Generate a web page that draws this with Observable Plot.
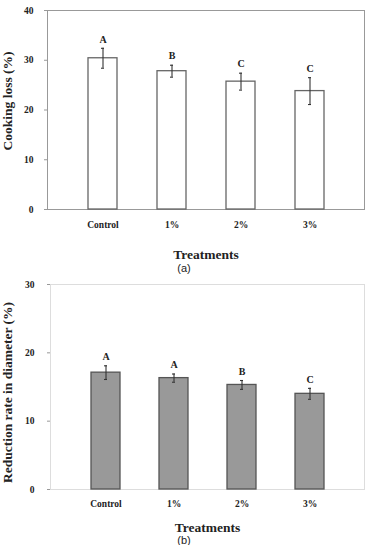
<!DOCTYPE html>
<html>
<head>
<meta charset="utf-8">
<script src="https://cdn.jsdelivr.net/npm/d3@7"></script>
<script src="https://cdn.jsdelivr.net/npm/@observablehq/plot@0.6"></script>
<style>
  html, body { margin: 0; padding: 0; background: #fff; }
  #wrap { position: relative; width: 368px; height: 545px; overflow: hidden; background: #fff; }
  #wrap > div.chart { position: absolute; left: 0; }
  .cap { position: absolute; width: 368px; text-align: center; font-family: "Liberation Sans", Arial, sans-serif; font-size: 11px; color: #222; }
</style>
</head>
<body>
<div id="wrap">
  <div class="chart" id="ca" style="top:0px"></div>
  <div class="chart" id="cb" style="top:275px"></div>
  <div class="cap" style="top:262px">(a)</div>
  <div class="cap" style="top:534px">(b)</div>
</div>
<script>
const treatments = ["Control", "1%", "2%", "3%"];
const cookingLoss = [30.4, 27.8, 25.7, 23.8];
const cookingLossErr = [2.0, 1.2, 1.7, 2.7];
const cookingLossLetters = ["A", "B", "C", "C"];
const reductionRate = [17.1, 16.3, 15.3, 14.0];
const reductionRateErr = [1.0, 0.6, 0.65, 0.8];
const reductionRateLetters = ["A", "A", "B", "C"];
const yTicksA = [0, 10, 20, 30, 40];
const yTicksB = [0, 10, 20, 30];

const serif = "'Liberation Serif', 'Times New Roman', serif";

function makeChart({values, errs, letters, yMax, yTicks, yLabel, height, marginTop, marginBottom, marginLeft,
                    frameStroke, barFill, barStroke, tickPad, yTickPad, yLabelDx, yLabelDy, xLabelDy}) {
  const data = treatments.map((t, i) => ({t, v: values[i], e: errs[i], l: letters[i]}));
  return Plot.plot({
    width: 368,
    height,
    marginTop,
    marginBottom,
    marginLeft,
    marginRight: 4,
    style: {background: "transparent", fontFamily: serif, color: "#222"},
    x: {domain: treatments, padding: 0.58, label: null},
    y: {domain: [0, yMax], label: null},
    marks: [
      Plot.frame({stroke: frameStroke}),
      Plot.barY(data, {x: "t", y: "v", fill: barFill, stroke: barStroke, strokeWidth: 1.3}),
      Plot.ruleX(data, {x: "t", y1: d => d.v - d.e, y2: d => d.v + d.e, stroke: "#333", strokeWidth: 1.1}),
      Plot.tickY(data, {x: "t", y: d => d.v + d.e, stroke: "#333", strokeWidth: 1.1, insetLeft: 13, insetRight: 13}),
      Plot.tickY(data, {x: "t", y: d => d.v - d.e, stroke: "#333", strokeWidth: 1.1, insetLeft: 13, insetRight: 13}),
      Plot.text(data, {x: "t", y: d => d.v + d.e, text: "l", dy: -9, fontSize: 10, fontWeight: "bold", fontFamily: serif, fill: "#222"}),
      Plot.axisY({ticks: yTicks, tickFormat: d => d, tickSize: 3, tickPadding: yTickPad, stroke: "#999",
                  fontSize: 9.5, fontWeight: "bold", fontFamily: serif, label: null}),
      Plot.axisX({tickSize: 0, tickPadding: tickPad, fontSize: 9.5, fontWeight: "bold", fontFamily: serif, label: null}),
      Plot.text([yLabel], {frameAnchor: "left", rotate: -90, dx: yLabelDx, dy: yLabelDy, text: d => d,
                  textAnchor: "middle", lineAnchor: "middle",
                  fontSize: 13.5, fontWeight: "bold", fontFamily: serif, fill: "#222"}),
      Plot.text(["Treatments"], {frameAnchor: "bottom", dy: xLabelDy, text: d => d,
                  textAnchor: "middle", lineAnchor: "middle",
                  fontSize: 13.5, fontWeight: "bold", fontFamily: serif, fill: "#222"})
    ]
  });
}

document.getElementById("ca").append(makeChart({
  values: cookingLoss, errs: cookingLossErr, letters: cookingLossLetters,
  yMax: 40, yTicks: yTicksA, yLabel: "Cooking loss (%)",
  height: 262, marginTop: 10, marginBottom: 53, marginLeft: 47,
  frameStroke: "#999", barFill: "#fff", barStroke: "#666",
  tickPad: 12, yTickPad: 11, yLabelDx: -39.5, yLabelDy: -9, xLabelDy: 45
}));

document.getElementById("cb").append(makeChart({
  values: reductionRate, errs: reductionRateErr, letters: reductionRateLetters,
  yMax: 30, yTicks: yTicksB, yLabel: "Reduction rate in diameter (%)",
  height: 266, marginTop: 9, marginBottom: 52, marginLeft: 50,
  frameStroke: "#ddd", barFill: "#999", barStroke: "#555",
  tickPad: 11, yTickPad: 13, yLabelDx: -42.5, yLabelDy: 5.5, xLabelDy: 38
}));
</script>
</body>
</html>
